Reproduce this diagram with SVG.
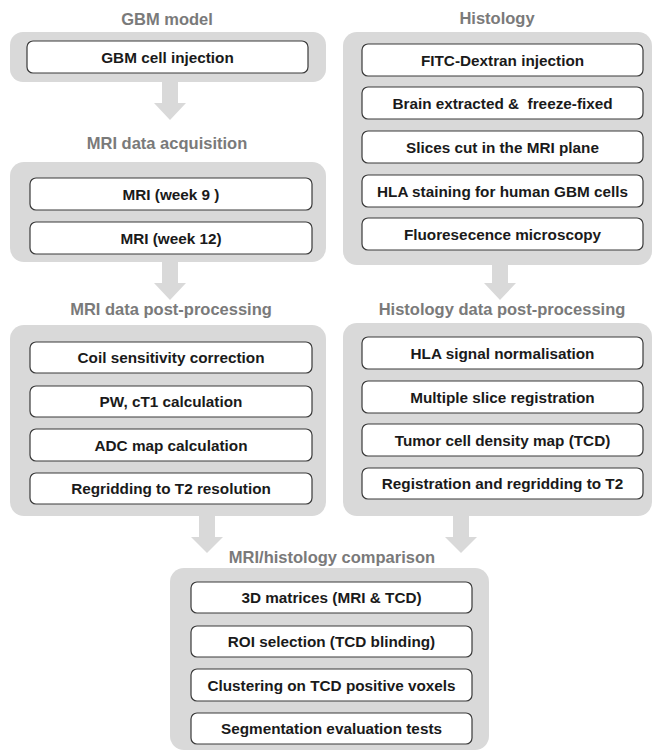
<svg xmlns="http://www.w3.org/2000/svg" width="655" height="754" viewBox="0 0 655 754">
<style>
.bg{fill:#ffffff}
.cont{fill:#d9d9d9}
.box{fill:#ffffff;stroke:#3a3a3a;stroke-width:1.2}
.title{font-family:"Liberation Sans",Arial,sans-serif;font-weight:bold;font-size:16.5px;fill:#7a7a7a;text-anchor:middle}
.lbl{font-family:"Liberation Sans",Arial,sans-serif;font-weight:bold;font-size:15.3px;fill:#1a1a1a;text-anchor:middle;white-space:pre}
.arr{fill:#d9d9d9}
</style>
<rect class="bg" x="0" y="0" width="655" height="754"/>

<g id="connectors">
<polygon class="arr" points="162,80 178,80 178,103 186,103 170,120 154,103 162,103"/>
<polygon class="arr" points="162,260 178,260 178,283 186,283 170,300 154,283 162,283"/>
<polygon class="arr" points="492,263 508,263 508,283 516,283 500,300 484,283 492,283"/>
<polygon class="arr" points="199,514 215,514 215,537 223,537 207,553 191,537 199,537"/>
<polygon class="arr" points="453,514 469,514 469,537 477,537 461,553 445,537 453,537"/>
</g>

<g id="gbm-model">
<text class="title" x="167" y="25">GBM model</text>
<rect class="cont" x="10" y="32" width="316" height="50" rx="13"/>
<g id="gbm-cell-injection"><rect class="box" x="27" y="41" width="281" height="32" rx="6"/><text class="lbl" x="167.5" y="62.5">GBM cell injection</text></g>
</g>

<g id="histology">
<text class="title" x="497" y="24">Histology</text>
<rect class="cont" x="343" y="32" width="309" height="233" rx="14"/>
<g id="fitc"><rect class="box" x="362" y="44" width="281" height="32" rx="6"/><text class="lbl" x="502.5" y="65.5">FITC-Dextran injection</text></g>
<g id="brain"><rect class="box" x="362" y="87" width="281" height="32" rx="6"/><text class="lbl" x="502.5" y="108.5" xml:space="preserve">Brain extracted &amp;  freeze-fixed</text></g>
<g id="slices"><rect class="box" x="362" y="131" width="281" height="32" rx="6"/><text class="lbl" x="502.5" y="152.5">Slices cut in the MRI plane</text></g>
<g id="hla-staining"><rect class="box" x="362" y="175" width="281" height="32" rx="6"/><text class="lbl" x="502.5" y="196.5">HLA staining for human GBM cells</text></g>
<g id="fluorescence"><rect class="box" x="362" y="218" width="281" height="32" rx="6"/><text class="lbl" x="502.5" y="239.5">Fluoresecence microscopy</text></g>
</g>

<g id="mri-acquisition">
<text class="title" x="167" y="149">MRI data acquisition</text>
<rect class="cont" x="10" y="162" width="316" height="100" rx="14"/>
<g id="mri-week9"><rect class="box" x="30" y="178" width="282" height="32" rx="6"/><text class="lbl" x="171" y="199.5">MRI (week 9 )</text></g>
<g id="mri-week12"><rect class="box" x="30" y="222" width="282" height="32" rx="6"/><text class="lbl" x="171" y="243.5">MRI (week 12)</text></g>
</g>

<g id="mri-postprocessing">
<text class="title" x="171" y="315">MRI data post-processing</text>
<rect class="cont" x="10" y="325" width="316" height="191" rx="14"/>
<g id="coil"><rect class="box" x="30" y="342" width="282" height="31" rx="6"/><text class="lbl" x="171" y="363">Coil sensitivity correction</text></g>
<g id="pw-ct1"><rect class="box" x="30" y="386" width="282" height="31" rx="6"/><text class="lbl" x="171" y="407">PW, cT1 calculation</text></g>
<g id="adc"><rect class="box" x="30" y="429" width="282" height="32" rx="6"/><text class="lbl" x="171" y="450.5">ADC map calculation</text></g>
<g id="regridding"><rect class="box" x="30" y="473" width="282" height="31" rx="6"/><text class="lbl" x="171" y="494">Regridding to T2 resolution</text></g>
</g>

<g id="histology-postprocessing">
<text class="title" x="502" y="315">Histology data post-processing</text>
<rect class="cont" x="343" y="323" width="309" height="193" rx="14"/>
<g id="hla-norm"><rect class="box" x="362" y="337" width="281" height="32" rx="6"/><text class="lbl" x="502.5" y="358.5">HLA signal normalisation</text></g>
<g id="multi-slice"><rect class="box" x="362" y="381" width="281" height="32" rx="6"/><text class="lbl" x="502.5" y="402.5">Multiple slice registration</text></g>
<g id="tcd-map"><rect class="box" x="362" y="424" width="281" height="32" rx="6"/><text class="lbl" x="502.5" y="445.5">Tumor cell density map (TCD)</text></g>
<g id="reg-t2"><rect class="box" x="362" y="468" width="281" height="31" rx="6"/><text class="lbl" x="502.5" y="489">Registration and regridding to T2</text></g>
</g>

<g id="comparison">
<text class="title" x="332" y="563">MRI/histology comparison</text>
<rect class="cont" x="170" y="568" width="319" height="182" rx="14"/>
<g id="matrices"><rect class="box" x="191" y="582" width="281" height="31" rx="6"/><text class="lbl" x="331.5" y="603">3D matrices (MRI &amp; TCD)</text></g>
<g id="roi"><rect class="box" x="191" y="626" width="281" height="31" rx="6"/><text class="lbl" x="331.5" y="647">ROI selection (TCD blinding)</text></g>
<g id="clustering"><rect class="box" x="191" y="669" width="281" height="32" rx="6"/><text class="lbl" x="331.5" y="690.5">Clustering on TCD positive voxels</text></g>
<g id="segmentation"><rect class="box" x="191" y="713" width="281" height="31" rx="6"/><text class="lbl" x="331.5" y="734">Segmentation evaluation tests</text></g>
</g>
</svg>
